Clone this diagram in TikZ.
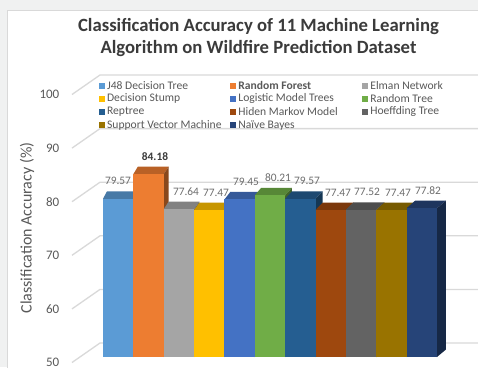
\documentclass[tikz,border=0pt]{standalone}
\usepackage{fontspec}
\setmainfont{Carlito}
\definecolor{pagebg}{HTML}{F0F1F1}
\definecolor{areaborder}{HTML}{D9D9D9}
\definecolor{gridgrey}{HTML}{D9D9D9}
\definecolor{titlegrey}{HTML}{3B3B3B}
\definecolor{axisgrey}{HTML}{595959}
\definecolor{labelgrey}{HTML}{6D6D6D}
\definecolor{cJ}{HTML}{5B9BD5}
\definecolor{cRF}{HTML}{ED7D31}
\definecolor{cEN}{HTML}{A5A5A5}
\definecolor{cDS}{HTML}{FFC000}
\definecolor{cLM}{HTML}{4472C4}
\definecolor{cRT}{HTML}{70AD47}
\definecolor{cRep}{HTML}{255E91}
\definecolor{cHM}{HTML}{9E480E}
\definecolor{cHT}{HTML}{636363}
\definecolor{cSV}{HTML}{997300}
\definecolor{cNB}{HTML}{264478}
\begin{document}
\begin{tikzpicture}[x=1pt,y=-1pt,
  gridline/.style={draw=gridgrey,line width=1.3pt},
  ticklabel/.style={anchor=east,inner sep=0pt,text=axisgrey,font=\fontsize{13}{15}\selectfont},
  axistitle/.style={inner sep=0pt,text=axisgrey,rotate=90,font=\fontsize{16}{19}\selectfont},
  charttitle/.style={anchor=base,inner sep=0pt,text=titlegrey,font=\fontsize{18.7}{22}\selectfont\bfseries},
  legmark/.style={rectangle,minimum size=6pt,inner sep=0pt,draw=none},
  legtext/.style={anchor=west,inner sep=0pt,xshift=2pt,text=axisgrey,font=\fontsize{11.6}{13}\selectfont},
  dlab/.style={inner sep=0pt,text=labelgrey,font=\fontsize{11.4}{13}\selectfont},
  dlabbold/.style={inner sep=0pt,text=titlegrey,font=\fontsize{11.4}{13}\selectfont\bfseries}]
\useasboundingbox (0,0) rectangle (478,367);
% page and chart area
\fill[pagebg] (0,0) rectangle (478,367);
\filldraw[fill=white,draw=areaborder,line width=0.8pt] (7,10) rectangle (482,372);

% title
\node[charttitle] (title1) at (258.5,31) {Classification Accuracy of 11 Machine Learning};
\node[charttitle] (title2) at (258.5,53) {Algorithm on Wildfire Prediction Dataset};

% gridlines on side wall and back wall, with tick labels
\foreach \v in {50,60,...,100} {
  \pgfmathsetmacro\yb{343-(\v-50)*5.36}
  \draw[gridline] (72,{\yb+19.5}) -- (100,\yb) -- (480,\yb);
  \node[ticklabel] (tick\v) at (59.5,{\yb+19.5}) {\v};
}

% axis title
\node[axistitle] (ytitle) at (27,228) {Classification Accuracy (\%)};

% legend
\foreach \n/\c/\x/\y/\t in {
  1/cJ/101.7/85.8/{J48 Decision Tree},
  2/cRF/233/85.8/{\bfseries Random Forest},
  3/cEN/365/85.8/{Elman Network},
  4/cDS/101.7/98.7/{Decision Stump},
  5/cLM/233/98.7/{Logistic Model Trees},
  6/cRT/365/98.7/{Random Tree},
  7/cRep/101.7/111.6/{Reptree},
  8/cHM/233/111.6/{Hiden Markov Model},
  9/cHT/365/111.6/{Hoeffding Tree},
  10/cSV/101.7/125.3/{Support Vector Machine},
  11/cNB/233/125.3/{Naïve Bayes}} {
  \node[legmark,fill=\c] (mark\n) at (\x,\y) {};
  \node[legtext] (leg\n) at (mark\n.east) {\t};
}

% 3D columns: top face, right side face, front face, value label
\foreach \i/\v/\c/\lx/\ls in {
  1/79.57/cJ/118/dlab,
  2/84.18/cRF/155/dlabbold,
  3/77.64/cEN/186/dlab,
  4/77.47/cDS/216/dlab,
  5/79.45/cLM/246/dlab,
  6/80.21/cRT/278/dlab,
  7/79.57/cRep/307/dlab,
  8/77.47/cHM/338/dlab,
  9/77.52/cHT/367/dlab,
  10/77.47/cSV/398/dlab,
  11/77.82/cNB/428/dlab} {
  \pgfmathsetmacro\xl{103+(\i-1)*30.36}
  \pgfmathsetmacro\xr{\xl+30.36}
  \pgfmathsetmacro\yt{357-(\v-50)*5.35}
  \pgfmathsetmacro\dl{4+0.015*(\xl-103)}
  \pgfmathsetmacro\dr{4+0.015*(\xr-103)}
  \fill[\c!78!black] (\xl,\yt) -- (\xr,\yt) -- ({\xr+\dr},{\yt-7.5}) -- ({\xl+\dl},{\yt-7.5}) -- cycle;
  \fill[\c!58!black] (\xr,\yt) -- (\xr,357) -- ({\xr+\dr},349.5) -- ({\xr+\dr},{\yt-7.5}) -- cycle;
  \fill[\c] (\xl,\yt) rectangle (\xr,357);
  \node[\ls] (val\i) at (\lx,{\yt-17.5}) {\v};
}
\end{tikzpicture}
\end{document}
